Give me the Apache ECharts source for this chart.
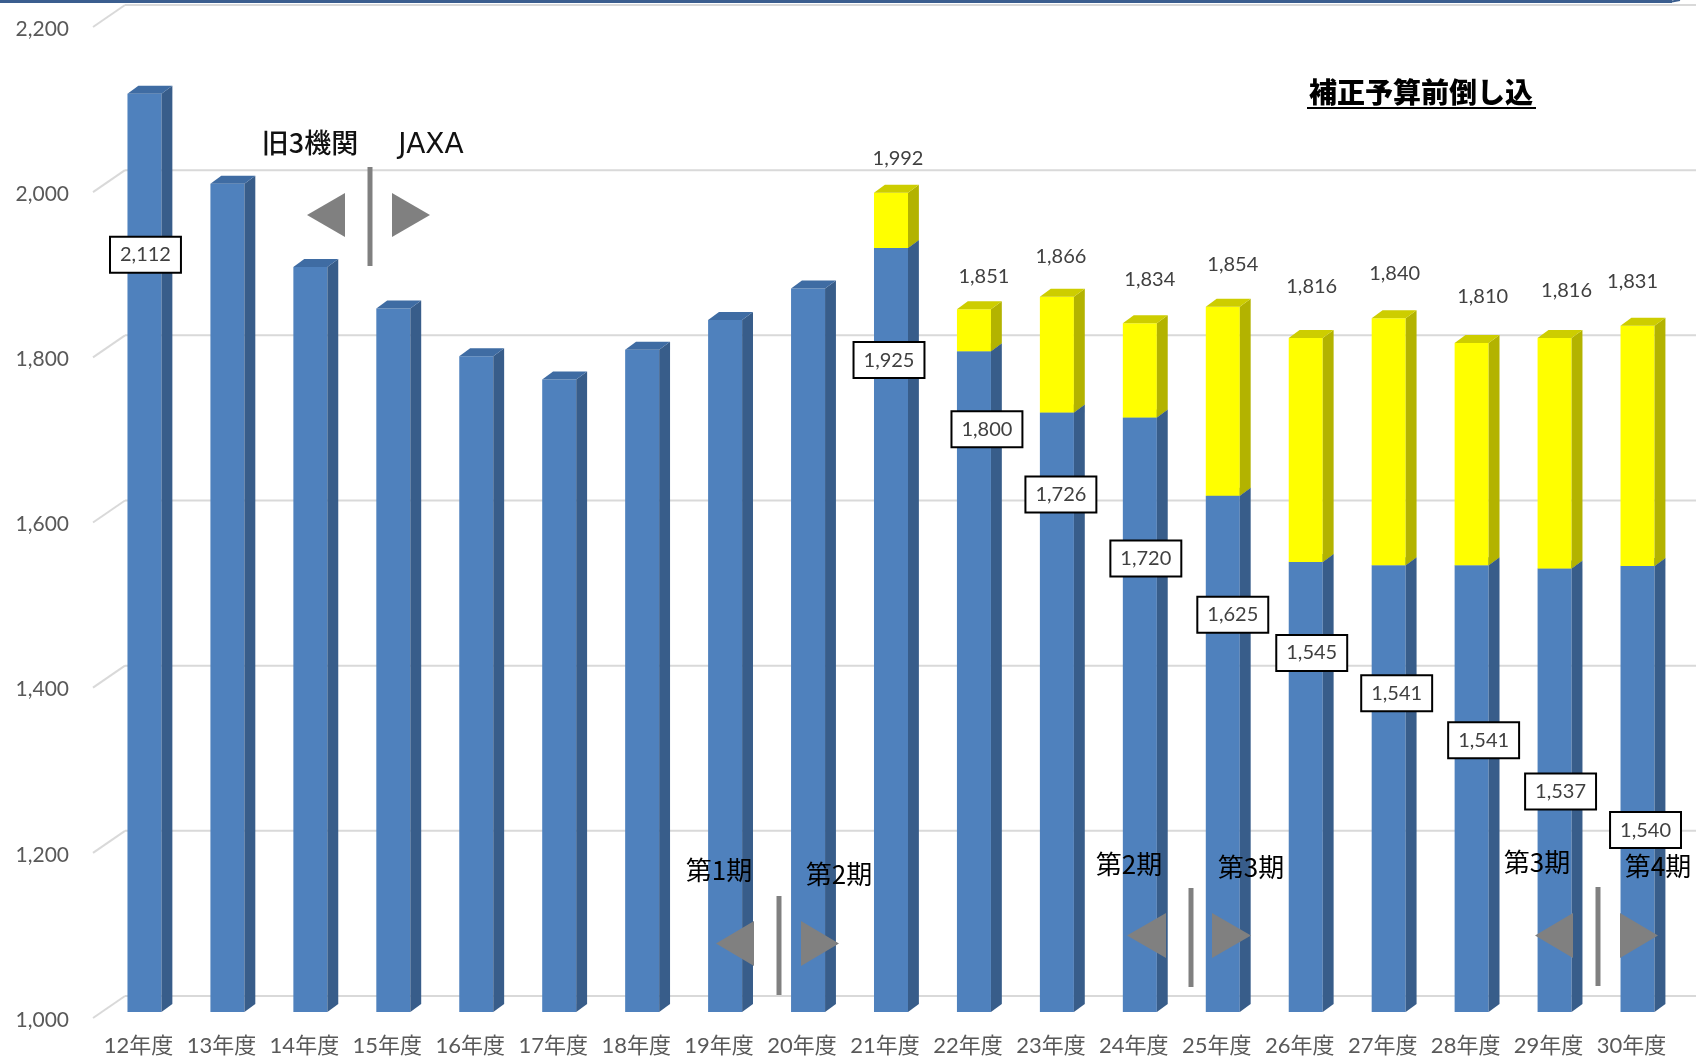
<!DOCTYPE html>
<html>
<head>
<meta charset="utf-8">
<script src="https://cdn.jsdelivr.net/npm/echarts@6/dist/echarts.min.js"></script>
<style>
html,body{margin:0;padding:0;background:#ffffff;}
#chart{width:1696px;height:1058px;}
</style>
</head>
<body>
<div id="chart"></div>
<script>
// ---- data ----
const categories = ['12年度','13年度','14年度','15年度','16年度','17年度','18年度','19年度','20年度','21年度','22年度','23年度','24年度','25年度','26年度','27年度','28年度','29年度','30年度'];
const baseBudget = [2112, 2003, 1902, 1852, 1794, 1766, 1802, 1838, 1876, 1925, 1800, 1726, 1720, 1625, 1545, 1541, 1541, 1537, 1540];
const totalBudget = [null, null, null, null, null, null, null, null, null, 1992, 1851, 1866, 1834, 1854, 1816, 1840, 1810, 1816, 1831];
const yTicks = [1000, 1200, 1400, 1600, 1800, 2000, 2200];
const boxedLabelIdx = [0, 9, 10, 11, 12, 13, 14, 15, 16, 17, 18];

// ---- annotation placement (pixel offsets from the bar top), not data ----
const boxDrop = {0:161, 9:112, 10:78, 11:82, 12:141, 13:119, 14:91, 15:128, 16:175, 17:223, 18:264};
const boxShift = {0:1, 9:-2, 10:13, 11:4, 12:6, 13:10, 14:6, 15:8, 16:12, 17:6, 18:8};
const totalLift = {9:34, 10:33, 11:40, 12:44, 13:42, 14:52, 15:45, 16:47, 17:48, 18:44};
const totalShift = {9:7, 10:10, 11:4, 12:10, 13:10, 14:6, 15:6, 16:11, 17:12, 18:-5};

const Y_MIN = yTicks[0], Y_MAX = yTicks[yTicks.length - 1], Y_STEP = yTicks[1] - yTicks[0];
const NUM_FONT = 'Lato, "Noto Sans CJK JP", sans-serif';
const JP_FONT = '"Noto Sans CJK JP", sans-serif';
const fmt = v => Number(v).toLocaleString('en-US');

const blueColors = {front:'#4F81BD', side:'#385D8A', top:'#3F6CA3'};
const yellowColors = {front:'#FFFF00', side:'#B3B300', top:'#CDCD00'};

function bar3d(colors) {
  return function (params, api) {
    const i = api.value(0), lo = api.value(1), hi = api.value(2);
    if (isNaN(hi)) return null;
    const band = api.size([1, 0])[0];
    const w = band * 0.41, dx = w * 0.32, dy = 8;
    const b = api.coord([i, lo]), t = api.coord([i, hi]);
    const x0 = b[0] - w / 2, x1 = b[0] + w / 2, yb = b[1], yt = t[1];
    return {
      type: 'group',
      children: [
        {type:'rect', shape:{x:x0, y:yt, width:w, height:yb - yt}, style:{fill:colors.front}},
        {type:'polygon', shape:{points:[[x1,yb],[x1,yt],[x1+dx,yt-dy],[x1+dx,yb-dy]]}, style:{fill:colors.side}},
        {type:'polygon', shape:{points:[[x0,yt],[x1,yt],[x1+dx,yt-dy],[x0+dx,yt-dy]]}, style:{fill:colors.top}}
      ]
    };
  };
}

const blueData = baseBudget.map((v, i) => [i, Y_MIN, v]);
const yellowData = [];
totalBudget.forEach((v, i) => { if (v != null) yellowData.push([i, baseBudget[i], v]); });
const boxData = boxedLabelIdx.map(i => [i, baseBudget[i]]);
const totalLabelData = yellowData.map(d => [d[0], d[2]]);

function txt(x, y, text, font, fill) {
  return {type:'text', z: 10, x: x, y: y, style:{text: text, font: font, fill: fill || '#000000',
    textAlign:'center', textVerticalAlign:'middle', align:'center', verticalAlign:'middle'}};
}
function arrows(lx0, lx1, top, bot, lineX, ly0, ly1, rx0, rx1) {
  const mid = (top + bot) / 2;
  return [
    {type:'polygon', z: 10, shape:{points:[[lx1,top],[lx1,bot],[lx0,mid]]}, style:{fill:'#808080'}},
    {type:'line', z: 10, shape:{x1:lineX, y1:ly0, x2:lineX, y2:ly1}, style:{stroke:'#808080', lineWidth:5}},
    {type:'polygon', z: 10, shape:{points:[[rx0,top],[rx0,bot],[rx1,mid]]}, style:{fill:'#808080'}}
  ];
}

const PERIOD_FONT = '26px ' + JP_FONT;

const option = {
  animation: false,
  backgroundColor: '#ffffff',
  grid: {left: 103, right: 17, top: 21, bottom: 46, containLabel: false},
  xAxis: {
    type: 'category',
    data: categories,
    axisLine: {show: false},
    axisTick: {show: false},
    axisLabel: {
      interval: 0,
      fontFamily: NUM_FONT, fontSize: 22, color: '#595959', margin: 23,
      padding: [0, 12, 0, 0]
    }
  },
  yAxis: {
    type: 'value',
    min: Y_MIN, max: Y_MAX, interval: Y_STEP,
    axisLine: {show: false},
    axisTick: {show: false},
    splitLine: {show: false},
    axisLabel: {
      fontFamily: NUM_FONT, fontSize: 21, color: '#595959', margin: 34,
      verticalAlign: 'top', lineHeight: 16,
      formatter: v => fmt(v)
    }
  },
  series: [
    {
      name: 'backgrid',
      type: 'custom',
      coordinateSystem: 'cartesian2d',
      silent: true,
      z: 0,
      clip: false,
      data: yTicks.map(v => [0, v]),
      encode: {x: 0, y: 1},
      renderItem: function (params, api) {
        const p = api.coord([0, api.value(1)]);
        const cs = params.coordSys;
        const y = p[1];
        const stroke = {stroke: '#D9D9D9', lineWidth: 2, fill: null};
        return {
          type: 'group',
          children: [
            {type:'line', shape:{x1: cs.x - 10, y1: y + 6, x2: cs.x + 22, y2: y - 16}, style: stroke},
            {type:'line', shape:{x1: cs.x + 22, y1: y - 16, x2: 1696, y2: y - 16}, style: stroke}
          ]
        };
      }
    },
    {
      name: '予算',
      type: 'custom',
      coordinateSystem: 'cartesian2d',
      z: 2,
      clip: false,
      data: blueData,
      encode: {x: 0, y: [1, 2]},
      renderItem: bar3d(blueColors)
    },
    {
      name: '補正予算前倒し',
      type: 'custom',
      coordinateSystem: 'cartesian2d',
      z: 3,
      clip: false,
      data: yellowData,
      encode: {x: 0, y: [1, 2]},
      renderItem: bar3d(yellowColors)
    },
    {
      name: 'boxlabels',
      type: 'custom',
      coordinateSystem: 'cartesian2d',
      z: 5,
      clip: false,
      silent: true,
      data: boxData,
      encode: {x: 0, y: 1},
      renderItem: function (params, api) {
        const i = api.value(0), v = api.value(1);
        const p = api.coord([i, v]);
        return {
          type: 'text',
          x: p[0] + boxShift[i],
          y: p[1] + boxDrop[i],
          style: {
            text: fmt(v), font: '20px ' + NUM_FONT, fill: '#404040',
            align: 'center', verticalAlign: 'middle',
            backgroundColor: '#ffffff', borderColor: '#000000', borderWidth: 2,
            padding: [7, 9, 7, 9]
          }
        };
      }
    },
    {
      name: 'totallabels',
      type: 'custom',
      coordinateSystem: 'cartesian2d',
      z: 5,
      clip: false,
      silent: true,
      data: totalLabelData,
      encode: {x: 0, y: 1},
      renderItem: function (params, api) {
        const i = api.value(0), v = api.value(1);
        const p = api.coord([i, v]);
        return {
          type: 'text',
          x: p[0] + totalShift[i],
          y: p[1] - totalLift[i],
          style: {
            text: fmt(v), font: '20px ' + NUM_FONT, fill: '#404040',
            align: 'center', verticalAlign: 'middle'
          }
        };
      }
    }
  ],
  graphic: [].concat(
    [
      {type:'line', z: 10, shape:{x1:0, y1:1.5, x2:1672, y2:1.5}, style:{stroke:'#3B5E8F', lineWidth:3}},
      {type:'line', z: 10, shape:{x1:1672, y1:1.5, x2:1680, y2:0}, style:{stroke:'#3B5E8F', lineWidth:2}},
      txt(1421, 92, '補正予算前倒し込', '900 28px ' + JP_FONT),
      {type:'line', z: 10, shape:{x1:1307, y1:108, x2:1536, y2:108}, style:{stroke:'#000000', lineWidth:2}},
      txt(310, 143, '旧3機関', '500 27px ' + JP_FONT, '#111111'),
      txt(431, 146, 'JAXA', '28px "DejaVu Sans", sans-serif', '#111111'),
      txt(719, 870, '第1期', PERIOD_FONT),
      txt(839, 874, '第2期', PERIOD_FONT),
      txt(1129, 864, '第2期', PERIOD_FONT),
      txt(1251, 867, '第3期', PERIOD_FONT),
      txt(1537, 862, '第3期', PERIOD_FONT),
      txt(1658, 866, '第4期', PERIOD_FONT)
    ],
    arrows(307, 345, 193, 237, 370, 167, 266, 392, 430),
    arrows(716, 754, 921, 966, 779, 896, 995, 801, 839),
    arrows(1127, 1166, 913, 958, 1191, 888, 987, 1212, 1251),
    arrows(1535, 1573, 913, 958, 1598, 887, 986, 1620, 1658)
  )
};

const chart = echarts.init(document.getElementById('chart'), null, {renderer: 'canvas', width: 1696, height: 1058});
chart.setOption(option);
</script>
</body>
</html>
